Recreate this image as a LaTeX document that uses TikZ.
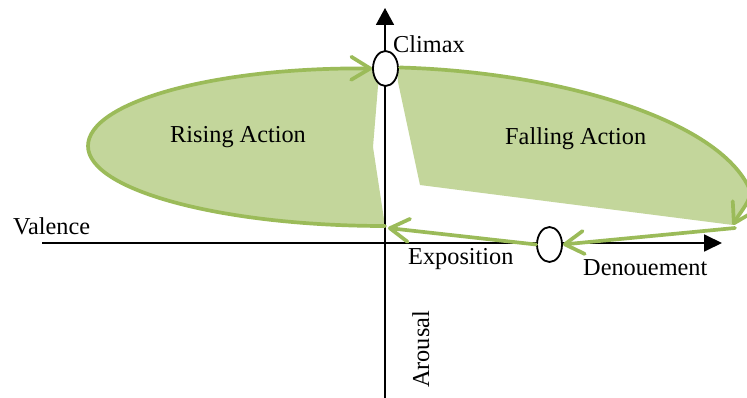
\documentclass[tikz,border=0pt]{standalone}
\usepackage{fontspec}
\setmainfont{Liberation Serif}
\usetikzlibrary{arrows.meta,shapes.geometric}
\definecolor{gline}{HTML}{9BBB59}
\definecolor{gfill}{HTML}{C3D69B}
\begin{document}
\begin{tikzpicture}[x=1pt,y=-1pt,
  lbl/.style={font=\fontsize{24.3}{29}\selectfont, inner sep=0pt},
  axis/.style={line width=1.8pt, black},
  gpath/.style={line width=3.7pt, draw=gline, line cap=round,
     -{Straight Barb[length=19pt,width=23pt,line cap=round,round]}},
  oval/.style={ellipse, draw=black, line width=1.8pt, fill=white, inner sep=0pt}
]
\clip (0,0) rectangle (747,398);
\fill[white] (0,0) rectangle (747,398);

% fills
\fill[gfill] (385,226) .. controls (221,226) and (88,190) .. (88,146)
   .. controls (88,102) and (215,66) .. (373,67)
   -- (380,70) -- (378,86) -- (373,147) -- cycle;
\fill[gfill] (397,67) .. controls (560,72) and (720,120) .. (750,190)
   .. controls (752,200) and (740,212) .. (733,225)
   -- (420,185) -- (398,82) -- cycle;

% axes
\coordinate (yb) at (385,398);
\coordinate (yt) at (385,8);
\coordinate (xl) at (42,243);
\coordinate (xr) at (722,243);
\draw[axis, -{Triangle[length=17pt,width=18pt]}] (yb) -- (yt);
\draw[axis, -{Triangle[length=18pt,width=17pt]}] (xl) -- (xr);

% ovals
\node[oval, minimum width=25pt, minimum height=35pt] (climax) at (385.5,68.5) {};
\node[oval, minimum width=25pt, minimum height=35pt] (expo) at (549.5,244.5) {};

% green connectors
\coordinate (risestart) at (385,226);
\coordinate (fallend) at (733,225);
\coordinate (denstart) at (735,228);
\coordinate (expoend) at (388,228);
\draw[gpath] (risestart) .. controls (221,226) and (88,190) .. (88,146)
   .. controls (88,102) and (215,67) .. (climax.west);
\draw[gpath] (climax.east) ++(1,-1) .. controls (560,72) and (720,120) .. (750,190)
   .. controls (752,200) and (740,212) .. (fallend);
\draw[gpath] (denstart) -- (expo.east);
\draw[gpath] (expo.west) -- (expoend);

% labels
\node[lbl, anchor=base west] (tclimax) at (393,53) {Climax};
\node[lbl, anchor=base west] (trise) at (170,143) {Rising Action};
\node[lbl, anchor=base west] (tfall) at (505,145) {Falling Action};
\node[lbl, anchor=base west] (tval) at (13,235) {Valence};
\node[lbl, anchor=base west] (texpo) at (408,265) {Exposition};
\node[lbl, anchor=base west] (tden) at (583,275) {Denouement};
\node[lbl, anchor=base west, rotate=90] (taro) at (429,388) {Arousal};
\end{tikzpicture}
\end{document}
